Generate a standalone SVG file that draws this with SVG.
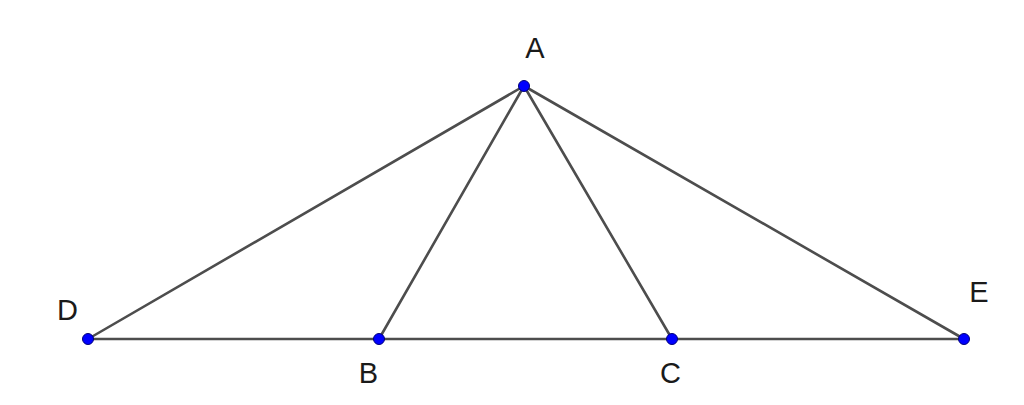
<svg xmlns="http://www.w3.org/2000/svg" width="1024" height="405" viewBox="0 0 1024 405">
<style>
.seg{stroke:#4d4d4d;stroke-width:2.6;stroke-linecap:round;fill:none}
.pt{fill:#0000ff;stroke:#00007a;stroke-width:1}
.lbl{font-family:"Liberation Sans",Arial,sans-serif;font-size:29px;fill:#1a1a1a;text-anchor:middle}
</style>
<rect width="1024" height="405" fill="#ffffff"/>
<g id="connectors">
<line class="seg" x1="88" y1="339" x2="964" y2="339"/>
<line class="seg" x1="524" y1="86" x2="88" y2="339"/>
<line class="seg" x1="524" y1="86" x2="379" y2="339"/>
<line class="seg" x1="524" y1="86" x2="672" y2="339"/>
<line class="seg" x1="524" y1="86" x2="964" y2="339"/>
</g>
<g id="A"><circle class="pt" cx="524" cy="86" r="5.5"/><text class="lbl" x="535" y="58">A</text></g>
<g id="D"><circle class="pt" cx="88" cy="339" r="5.5"/><text class="lbl" x="67.5" y="320">D</text></g>
<g id="B"><circle class="pt" cx="379" cy="339" r="5.5"/><text class="lbl" x="368.5" y="383">B</text></g>
<g id="C"><circle class="pt" cx="672" cy="339" r="5.5"/><text class="lbl" x="670.5" y="382.5">C</text></g>
<g id="E"><circle class="pt" cx="964" cy="339" r="5.5"/><text class="lbl" x="979" y="302">E</text></g>
</svg>
